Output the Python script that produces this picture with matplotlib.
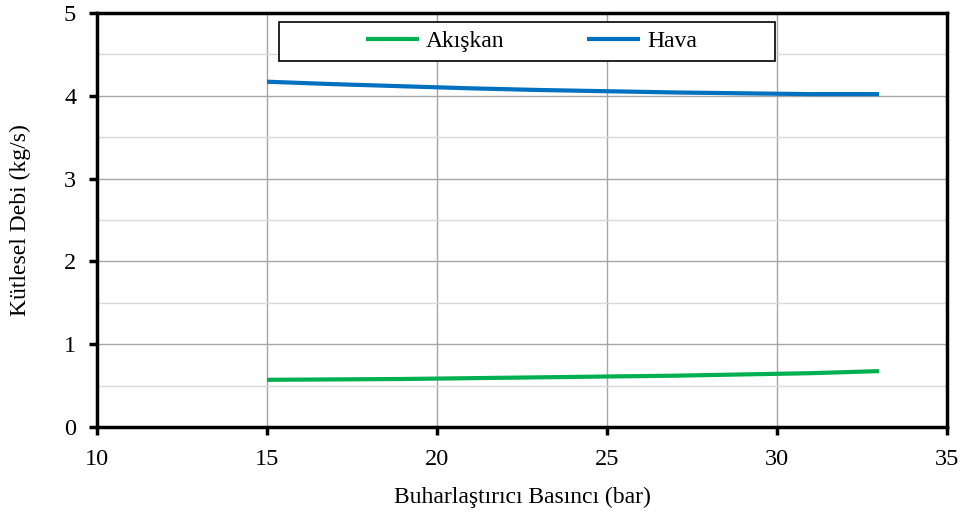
import numpy as np
import matplotlib.pyplot as plt
from matplotlib.ticker import MultipleLocator
from matplotlib.patches import Rectangle

plt.rcParams['font.family'] = ['Liberation Serif', 'DejaVu Serif']

pressure = [15, 17, 19, 21, 23, 25, 27, 29, 31, 33]
akiskan = [0.57, 0.575, 0.58, 0.59, 0.60, 0.61, 0.62, 0.635, 0.65, 0.675]
hava = [4.17, 4.14, 4.115, 4.09, 4.07, 4.055, 4.04, 4.03, 4.02, 4.02]

fig = plt.figure(figsize=(9.63, 5.13), dpi=100)
ax = fig.add_axes([0.1007, 0.1676, 0.8827, 0.8071])

ax.plot(pressure, akiskan, color='#00B050', lw=3, label='Akışkan', solid_capstyle='butt')
ax.plot(pressure, hava, color='#0070C0', lw=3, label='Hava', solid_capstyle='butt')

ax.set_xlim(10, 35)
ax.set_ylim(0, 5)
ax.xaxis.set_major_locator(MultipleLocator(5))
ax.yaxis.set_major_locator(MultipleLocator(1))
ax.yaxis.set_minor_locator(MultipleLocator(0.5))
ax.grid(which='major', color='#A6A6A6', lw=1)
ax.grid(which='minor', axis='y', color='#D9D9D9', lw=1)
ax.tick_params(which='minor', length=0)
ax.tick_params(which='major', direction='out', length=6, width=2.5, labelsize=17.5)
ax.tick_params(axis='x', pad=10)
ax.tick_params(axis='y', pad=9)
ax.set_axisbelow(True)
for s in ax.spines.values():
    s.set_linewidth(2.5)

ax.set_xlabel('Buharlaştırıcı Basıncı (bar)', fontsize=17, labelpad=12)
ax.set_ylabel('Kütlesel Debi (kg/s)', fontsize=17, labelpad=24)

# legend box drawn separately so contents sit centred with wide margins
ax.add_patch(Rectangle((0.214, 0.884), 0.584, 0.094, transform=ax.transAxes,
                       facecolor='white', edgecolor='black', lw=1.2, zorder=4))
leg = ax.legend(ncol=2, loc='center', bbox_to_anchor=(0.511, 0.931),
                fontsize=17, frameon=False, handlelength=2.25, handletextpad=0.3,
                columnspacing=3.5, borderaxespad=0)
leg.set_zorder(5)

fig.savefig('out.png', dpi=100)
